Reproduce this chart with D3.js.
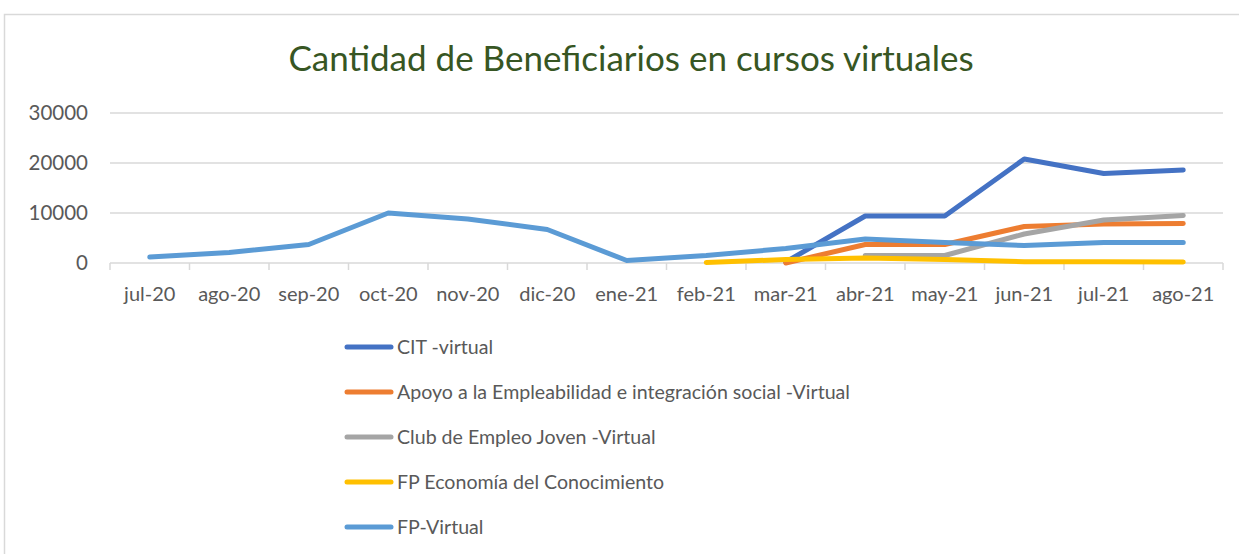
<!DOCTYPE html>
<html>
<head>
<meta charset="utf-8">
<script src="https://cdn.jsdelivr.net/npm/d3@7"></script>
<style>
  body { margin: 0; background: #fff; }
  text { font-family: Lato, "Open Sans", sans-serif; }
</style>
</head>
<body>
<script>
// months on the x axis
const months = ["jul-20","ago-20","sep-20","oct-20","nov-20","dic-20","ene-21","feb-21","mar-21","abr-21","may-21","jun-21","jul-21","ago-21"];

// values (null = no data that month)
const cit     = [null,null,null,null,null,null,null,null,200,9400,9400,20800,17900,18600];
const apoyo   = [null,null,null,null,null,null,null,null,0,3700,3700,7300,7800,7900];
const club    = [null,null,null,null,null,null,null,null,null,1500,1500,5800,8600,9500];
const fpEcon  = [null,null,null,null,null,null,null,100,700,1000,700,250,250,200];
const fpVirt  = [1200,2100,3700,10000,8800,6700,500,1500,2900,4800,4100,3500,4100,4100];

const yTicks = [0,10000,20000,30000];

const seriesNames = ["CIT -virtual","Apoyo a la Empleabilidad e integración social -Virtual","Club de Empleo Joven -Virtual","FP Economía del Conocimiento","FP-Virtual"];
const seriesColors = ["#4472C4","#ED7D31","#A5A5A5","#FFC000","#5B9BD5"];
const seriesValues = [cit, apoyo, club, fpEcon, fpVirt];

const W = 1239, H = 554;
const svg = d3.select("body").append("svg")
  .attr("width", W).attr("height", H);

// chart frame
svg.append("rect")
  .attr("x", 4.5).attr("y", 14.5)
  .attr("width", W + 10).attr("height", H + 10)
  .attr("fill", "#fff").attr("stroke", "#d9d9d9").attr("stroke-width", 1.5);

// title
svg.append("text")
  .attr("x", 631).attr("y", 71)
  .attr("text-anchor", "middle")
  .attr("font-size", 35)
  .attr("fill", "#375623")
  .text("Cantidad de Beneficiarios en cursos virtuales");

const x = d3.scaleBand().domain(months).range([110, 1223]);
const y = d3.scaleLinear().domain([0, 30000]).range([263, 113]);

// gridlines
svg.append("g").selectAll("line")
  .data(yTicks)
  .enter().append("line")
  .attr("x1", 110).attr("x2", 1223)
  .attr("y1", d => y(d)).attr("y2", d => y(d))
  .attr("stroke", "#d9d9d9").attr("stroke-width", 1.5);

// y labels
svg.append("g").selectAll("text")
  .data(yTicks)
  .enter().append("text")
  .attr("x", 88).attr("y", d => y(d))
  .attr("dy", "0.35em")
  .attr("text-anchor", "end")
  .attr("font-size", 20.5)
  .attr("fill", "#595959")
  .text(d => d);

// x axis with tick marks between categories
const xAxis = d3.axisBottom(x).tickSize(0).tickPadding(24);
const gx = svg.append("g").attr("transform", `translate(0,${y(0)})`).call(xAxis);
gx.select(".domain").remove();
gx.selectAll("text").attr("font-size", 20).attr("fill", "#595959")
  .attr("font-family", "Lato, 'Open Sans', sans-serif");
svg.append("g").selectAll("line")
  .data(months.concat(["end"]))
  .enter().append("line")
  .attr("x1", (d, i) => x.range()[0] + i * x.bandwidth())
  .attr("x2", (d, i) => x.range()[0] + i * x.bandwidth())
  .attr("y1", y(0)).attr("y2", y(0) + 7)
  .attr("stroke", "#d9d9d9").attr("stroke-width", 1.5);

// lines
const line = d3.line()
  .defined(d => d != null)
  .x((d, i) => x(months[i]) + x.bandwidth() / 2)
  .y(d => y(d));

seriesValues.forEach(function (vals, k) {
  svg.append("path")
    .datum(vals)
    .attr("fill", "none")
    .attr("stroke", seriesColors[k])
    .attr("stroke-width", 5)
    .attr("stroke-linejoin", "round")
    .attr("stroke-linecap", "round")
    .attr("d", line);
});

// legend
const leg = svg.append("g").selectAll("g")
  .data(seriesNames)
  .enter().append("g")
  .attr("transform", (d, i) => `translate(0,${347 + i * 45})`);
leg.append("line")
  .attr("x1", 347).attr("x2", 391)
  .attr("stroke", (d, i) => seriesColors[i])
  .attr("stroke-width", 5).attr("stroke-linecap", "round");
leg.append("text")
  .attr("x", 397).attr("dy", "0.35em")
  .attr("font-size", 19.6).attr("fill", "#595959")
  .text(d => d);
</script>
</body>
</html>
